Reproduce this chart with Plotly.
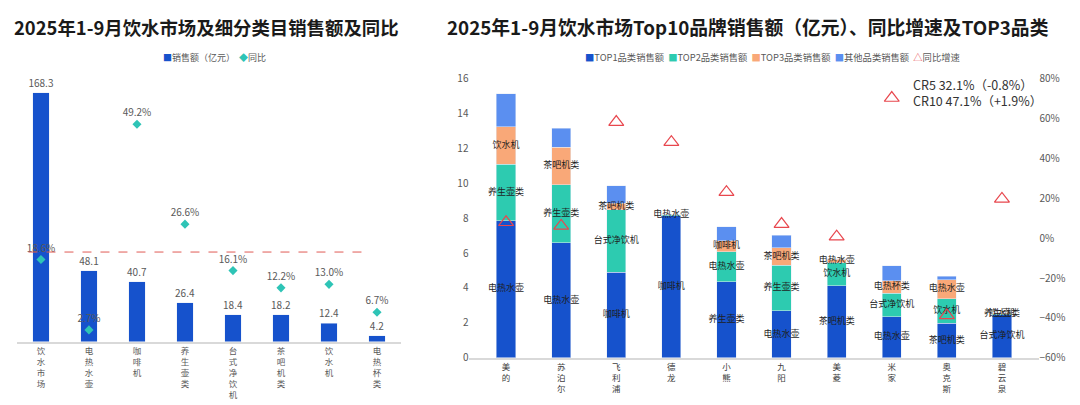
import numpy as np
import plotly.graph_objects as go

# left chart: market and sub-categories, sales (100M RMB) and YoY (%)
categories = ['饮水市场', '电热水壶', '咖啡机', '养生壶类', '台式净饮机', '茶吧机类', '饮水机', '电热杯类']
sales = [168.3, 48.1, 40.7, 26.4, 18.4, 18.2, 12.4, 4.2]
sales_yoy = [18.6, 2.7, 49.2, 26.6, 16.1, 12.2, 13.0, 6.7]
yoy_ref = 20.3

# right chart: top10 brands, sales split by TOP1/2/3 categories, YoY (%)
brands = ['美的', '苏泊尔', '飞利浦', '德龙', '小熊', '九阳', '美菱', '米家', '奥克斯', '碧云泉']
top1 = [7.87, 6.59, 4.89, 8.16, 4.35, 2.68, 4.12, 2.36, 1.99, 2.47]
top2 = [3.22, 3.34, 3.60, 0.05, 1.74, 2.63, 1.34, 1.34, 1.40, 0.05]
top3 = [2.17, 2.16, 0.38, 0.00, 0.63, 1.01, 0.19, 0.71, 1.08, 0.05]
others = [1.90, 1.09, 0.99, 0.00, 0.79, 0.71, 0.04, 0.86, 0.21, 0.00]
brand_yoy = [8.0, 6.2, 58.3, 48.2, 23.1, 7.1, 0.8, 70.4, -38.8, 19.7]
top1_cat = ['电热水壶', '电热水壶', '咖啡机', '咖啡机', '养生壶类', '电热水壶', '茶吧机类', '电热水壶', '茶吧机类', '台式净饮机']
top2_cat = ['养生壶类', '养生壶类', '台式净饮机', '电热水壶', '电热水壶', '养生壶类', '饮水机', '台式净饮机', '饮水机', '饮水机']
top3_cat = ['饮水机', '茶吧机类', '茶吧机类', '', '咖啡机', '茶吧机类', '电热水壶', '电热杯类', '电热水壶', '养生壶类']
cr_note = 'CR5 32.1%（-0.8%）<br>CR10 47.1%（+1.9%）'

FONT = 'Noto Sans CJK SC'
GREY = '#595959'
BLUE = '#1652CC'
TEAL = '#2EC4B6'
RED = '#E8474E'


def vertical(labels):
    # stack characters so the axis labels read top to bottom
    return ['<br>'.join(list(s)) for s in labels]


def key(symbol, color, label):
    return f'<span style="color:{color}">{symbol}</span>{label}'


fig = go.Figure()

# ---- left chart
cat_x = vertical(categories)
fig.add_trace(
    go.Bar(x=cat_x, y=sales, name='销售额（亿元）',
           marker=dict(color=BLUE),
           text=[f'{v:.1f}' for v in sales], textposition='outside',
           constraintext='none',
           textfont=dict(size=10, color=GREY), cliponaxis=False,
           xaxis='x', yaxis='y'))

fig.add_trace(
    go.Scatter(x=cat_x, y=sales_yoy, name='同比', mode='markers+text',
               marker=dict(symbol='diamond', size=7, color=TEAL),
               text=[f'{v:.1f}%' for v in sales_yoy], textposition='top center',
               textfont=dict(size=10, color=GREY), cliponaxis=False,
               xaxis='x', yaxis='y2'))

fig.add_shape(type='line', xref='x domain', yref='y2', x0=0.03, x1=0.92,
              y0=yoy_ref, y1=yoy_ref,
              line=dict(color='#E05A55', width=1, dash='dash'))

# ---- right chart
parts = [
    ('TOP1品类销售额', top1, '#1652CC'),
    ('TOP2品类销售额', top2, '#2DCBB0'),
    ('TOP3品类销售额', top3, '#F9A878'),
    ('其他品类销售额', others, '#5B8FF0'),
]
brand_x = vertical(brands)
for name, vals, color in parts:
    fig.add_trace(
        go.Bar(x=brand_x, y=vals, name=name, marker=dict(color=color),
               xaxis='x3', yaxis='y3'))

# category names at the middle of each TOP segment
t1 = np.array(top1)
t2 = np.array(top2)
t3 = np.array(top3)
for mids, labels in [(t1 / 2, top1_cat),
                     (t1 + t2 / 2, top2_cat),
                     (t1 + t2 + t3 / 2, top3_cat)]:
    fig.add_trace(
        go.Scatter(x=brand_x, y=mids, mode='text', text=labels,
                   textfont=dict(size=9, color='#1F1F1F'),
                   hoverinfo='skip', cliponaxis=False,
                   xaxis='x3', yaxis='y3'))

fig.add_trace(
    go.Scatter(x=brand_x, y=brand_yoy, name='同比增速', mode='markers',
               marker=dict(symbol='triangle-up-open', size=13, color=RED,
                           line=dict(width=1.2)),
               cliponaxis=False, xaxis='x3', yaxis='y4'))

fig.update_layout(
    width=1080, height=405,
    margin=dict(l=0, r=0, t=0, b=0, autoexpand=False),
    paper_bgcolor='white', plot_bgcolor='white',
    font=dict(family=FONT, size=10, color=GREY),
    barmode='stack', bargap=0.65,
    showlegend=False,
    xaxis=dict(domain=[0.0157, 0.3713], anchor='y', showline=True,
               linecolor='#D9D9D9', linewidth=1.5, ticks='',
               tickfont=dict(size=8.5, color=GREY)),
    yaxis=dict(domain=[0.156, 0.8025], range=[0, 176.8], visible=False),
    yaxis2=dict(overlaying='y', range=[0, 59.2], visible=False),
    xaxis3=dict(domain=[0.4347, 0.9616], anchor='y3', showline=True,
                linecolor='#D9D9D9', linewidth=1.5, ticks='',
                tickfont=dict(size=8.5, color='#404040')),
    yaxis3=dict(domain=[0.1168, 0.8052], anchor='x3', range=[0, 16], dtick=2,
                showgrid=False, zeroline=False,
                tickfont=dict(size=10, color=GREY)),
    yaxis4=dict(overlaying='y3', anchor='x3', side='right', range=[-60, 80],
                dtick=20, ticksuffix='%', showgrid=False, zeroline=False,
                tickfont=dict(size=10, color=GREY)),
)

# titles
fig.add_annotation(text='<b>2025年1-9月饮水市场及细分类目销售额及同比</b>',
                   xref='paper', yref='paper', x=0.011, y=0.934,
                   xanchor='left', yanchor='middle',
                   showarrow=False, font=dict(size=18.4, color='#1A1A1A'))
fig.add_annotation(text='<b>2025年1-9月饮水市场Top10品牌销售额（亿元）、同比增速及TOP3品类</b>',
                   xref='paper', yref='paper', x=0.412, y=0.934,
                   xanchor='left', yanchor='middle',
                   showarrow=False, font=dict(size=18.8, color='#1A1A1A'))

# compact legends
left_keys = '  '.join([key('■', BLUE, '销售额（亿元）'), key('◆', TEAL, '同比')])
right_keys = '  '.join([key('■', c, n) for n, _, c in parts] + [key('△', RED, '同比增速')])
fig.add_annotation(text=left_keys, xref='paper', yref='paper', x=0.149, y=0.859,
                   xanchor='left', yanchor='middle',
                   showarrow=False, font=dict(size=9, color=GREY))
fig.add_annotation(text=right_keys, xref='paper', yref='paper', x=0.54, y=0.859,
                   xanchor='left', yanchor='middle',
                   showarrow=False, font=dict(size=9.3, color=GREY))

fig.add_annotation(text=cr_note, xref='paper', yref='paper', x=0.8435, y=0.7716,
                   xanchor='left', yanchor='middle', align='left', showarrow=False,
                   font=dict(size=12.5, color='#333333'))

# drop the default page margin so the figure sits at the window's corner
fig.write_html('out.html', config={'displayModeBar': False},
               post_script="document.body.style.margin = '0';")
